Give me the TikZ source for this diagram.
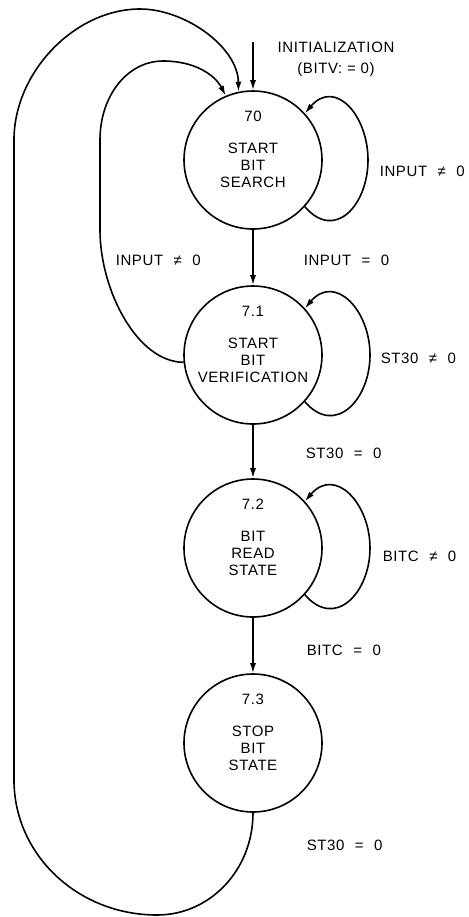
\documentclass[tikz,border=0pt]{standalone}
\usepackage{fontspec}
\setmainfont{Liberation Sans}[LetterSpace=4]
\usetikzlibrary{arrows.meta}
\newcommand{\opgap}{\hspace{0.7em}}
\begin{document}
\begin{tikzpicture}[x=0.5pt,y=-0.5pt,line width=0.8pt,>={Latex[length=5pt,width=3pt]},
  state/.style={circle,draw=black,minimum size=69pt,inner sep=0pt},
  num/.style={yshift=22pt,inner sep=0pt,font=\fontsize{7.5}{8.5}\selectfont},
  body/.style={yshift=-2.5pt,inner sep=0pt,align=center,font=\fontsize{7.5}{8.5}\selectfont},
  cond/.style={anchor=west,inner sep=0pt,font=\fontsize{7.5}{9}\selectfont}]
\useasboundingbox (0,0) rectangle (469,917);
\coordinate (init) at (253,42);
\node[cond,anchor=center,align=center,font=\fontsize{7.5}{10.5}\selectfont] (initlbl) at (336,59) {INITIALIZATION\\(BITV: = 0)};
\node[state,label={[num]center:70},label={[body]center:START\\BIT\\SEARCH}] (s70) at (253,160) {};
\draw[->] (init)--(s70);
\coordinate (l70) at (368,160);
\draw[->] (s70.-42) .. controls +(30,35) and +(0,45) .. (l70) .. controls +(0,-45) and +(30,-35) .. (s70.42);
\node[cond] (c70) at (379,171) {INPUT\opgap≠\opgap 0};
\node[state,label={[num]center:7.1},label={[body]center:START\\BIT\\VERIFICATION}] (s71) at (253,355) {};
\draw[->] (s70)--(s71);
\node[cond] (c7071) at (303,260) {INPUT\opgap=\opgap 0};
\node[cond] (c7170) at (115,260) {INPUT\opgap≠\opgap 0};
\draw[->] (s71.186) .. controls (137,362) and (100,290) .. (100,230) -- (100,140) .. controls (100,95) and (128,61) .. (163,61) .. controls (195,61) and (215,75) .. (s70.113);
\coordinate (l71) at (370,355);
\draw[->] (s71.-42) .. controls +(30,35) and +(0,45) .. (l71) .. controls +(0,-45) and +(30,-35) .. (s71.42);
\node[cond] (c71) at (380,358) {ST30\opgap≠\opgap 0};
\node[state,label={[num]center:7.2},label={[body]center:BIT\\READ\\STATE}] (s72) at (253,548) {};
\draw[->] (s71)--(s72);
\node[cond] (c7172) at (305,453) {ST30\opgap=\opgap 0};
\coordinate (l72) at (370,548);
\draw[->] (s72.-42) .. controls +(30,35) and +(0,45) .. (l72) .. controls +(0,-45) and +(30,-35) .. (s72.42);
\node[cond] (c72) at (382,556) {BITC\opgap≠\opgap 0};
\node[state,label={[num]center:7.3},label={[body]center:STOP\\BIT\\STATE}] (s73) at (253,743) {};
\draw[->] (s72)--(s73);
\node[cond] (c7273) at (306,650) {BITC\opgap=\opgap 0};
\node[cond] (c7370) at (306,845) {ST30\opgap=\opgap 0};
\draw[->] (s73.south) .. controls (253,870) and (210,915) .. (157,915) .. controls (78,915) and (14,855) .. (14,780) -- (14,140) .. controls (14,72) and (75,9) .. (140,9) .. controls (185,9) and (238,47) .. (s70.102);
\end{tikzpicture}
\end{document}
